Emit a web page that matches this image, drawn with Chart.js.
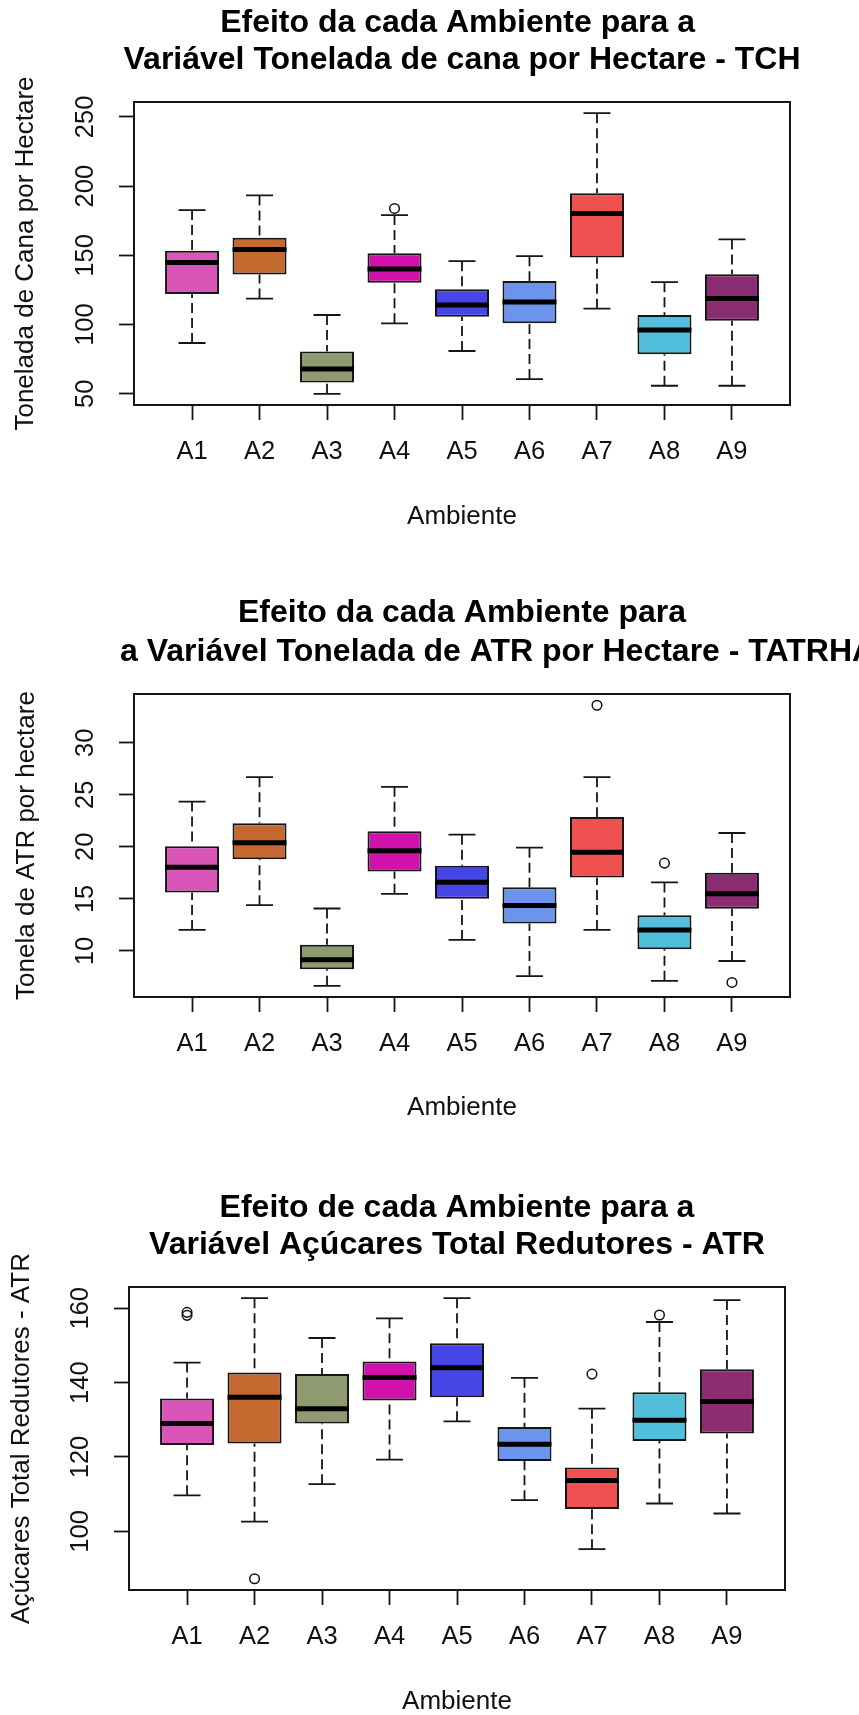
<!DOCTYPE html>
<html lang="pt">
<head>
<meta charset="utf-8">
<title>Efeito de cada Ambiente</title>
<script src="https://cdn.jsdelivr.net/npm/chart.js@4.4.1/dist/chart.umd.min.js"></script>
<style>
  html, body { margin: 0; padding: 0; background: #fff; overflow: hidden; }
  body { width: 859px; height: 1715px; position: relative; }
  canvas { position: absolute; left: 0; }
</style>
</head>
<body>
<canvas id="tch" width="859" height="580" style="top:0px"></canvas>
<canvas id="tatrha" width="859" height="575" style="top:580px"></canvas>
<canvas id="atr" width="859" height="580" style="top:1155px"></canvas>
<script>
const ambientes = ['A1', 'A2', 'A3', 'A4', 'A5', 'A6', 'A7', 'A8', 'A9'];
const coresAmbiente = ['#DA55B8', '#C4692F', '#8F9A70', '#D012AB', '#4646E6', '#6C94EC', '#EF5050', '#52C0DC', '#8B2D72'];

// TCH
const tchTitulo = ['Efeito da cada Ambiente para a ', 'Variável Tonelada de cana por Hectare - TCH'];
const tchEixoY = 'Tonelada de Cana por Hectare';
const tchLimInf = [86.7, 118.8, 50.0, 100.9, 80.9, 60.6, 111.5, 55.8, 55.8];
const tchQ1 = [122.1, 136.1, 58.2, 130.3, 105.7, 100.9, 148.4, 78.5, 102.8];
const tchMediana = [144.8, 154.2, 67.9, 140.2, 114.2, 116.3, 180.3, 96.1, 118.8];
const tchQ3 = [153.3, 162.7, 80.6, 151.6, 125.5, 131.5, 194.8, 106.9, 136.4];
const tchLimSup = [182.7, 193.3, 106.9, 179.1, 145.8, 149.4, 252.7, 130.6, 161.5];
const tchOutAmb = ['A4'];
const tchOutVal = [183.9];
const tchTicks = [50, 100, 150, 200, 250];

// TATRHA
const tatrhaTitulo = ['Efeito da cada Ambiente para', '        a Variável Tonelada de ATR por Hectare - TATRHA'];
const tatrhaEixoY = 'Tonela de ATR por hectare';
const tatrhaLimInf = [12.02, 14.4, 6.66, 15.49, 11.06, 7.59, 12.02, 7.14, 9.04];
const tatrhaQ1 = [15.62, 18.8, 8.24, 17.64, 15.01, 12.63, 17.06, 10.16, 14.05];
const tatrhaMediana = [18.03, 20.4, 9.17, 19.63, 16.61, 14.37, 19.47, 12.02, 15.49];
const tatrhaQ3 = [20.05, 22.26, 10.61, 21.49, 18.19, 16.13, 22.87, 13.44, 17.51];
const tatrhaLimSup = [24.35, 26.69, 14.08, 25.76, 21.17, 19.92, 26.69, 16.58, 21.33];
const tatrhaOutAmb = ['A7', 'A8', 'A9'];
const tatrhaOutVal = [33.6, 18.44, 6.98];
const tatrhaTicks = [10, 15, 20, 25, 30];

// ATR
const atrTitulo = ['Efeito de cada Ambiente para a', 'Variável Açúcares Total Redutores - ATR'];
const atrEixoY = 'Açúcares Total Redutores - ATR';
const atrLimInf = [109.7, 102.6, 112.7, 119.3, 129.6, 108.4, 95.2, 107.5, 104.8];
const atrQ1 = [123.2, 123.6, 129.0, 135.2, 136.1, 118.9, 106.0, 124.3, 126.3];
const atrMediana = [129.0, 136.1, 133.0, 141.4, 144.0, 123.4, 113.7, 129.9, 134.9];
const atrQ3 = [135.7, 142.7, 142.3, 145.7, 150.6, 128.1, 117.2, 137.4, 143.6];
const atrLimSup = [145.4, 162.7, 152.0, 157.3, 162.7, 141.3, 133.0, 156.3, 162.2];
const atrOutAmb = ['A1', 'A1', 'A2', 'A7', 'A8'];
const atrOutVal = [158.9, 158.1, 87.25, 142.3, 158.2];
const atrTicks = [100, 120, 140, 160];

const FONTE = '"Liberation Sans", Arial, Helvetica, sans-serif';
const TRACO = '#151515';

// posicao de cada painel dentro do seu canvas
const geoTCH = { altura: 580, caixa: { left: 134, right: 790, top: 102, bottom: 405 }, tituloY: [22.7, 60], eixoYX: 26, eixoXY: 517 };
const geoTATRHA = { altura: 575, caixa: { left: 134, right: 790, top: 114, bottom: 417 }, tituloY: [33.3, 71.7], eixoYX: 27, eixoXY: 528.3 };
const geoATR = { altura: 580, caixa: { left: 129, right: 785, top: 132, bottom: 435 }, tituloY: [53, 90], eixoYX: 22, eixoXY: 546.7 };

function boxplot(id, g, titulo, eixoY, limInf, q1, mediana, q3, limSup, outAmb, outVal, ticksY) {
  // limites do eixo y como no R: amplitude dos dados + 4%
  const todos = limInf.concat(limSup, outVal);
  const lo = Math.min(...todos), hi = Math.max(...todos);
  const folga = (hi - lo) * 0.04;

  const bxp = {
    id: 'bxp',
    beforeDatasetsDraw(chart) {
      // bigodes tracejados e hastes
      const { ctx, scales: { x, y } } = chart;
      const meia = (x.getPixelForValue(2) - x.getPixelForValue(1)) * 0.2;
      ctx.save();
      ctx.strokeStyle = TRACO;
      ctx.lineWidth = 1.8;
      limInf.forEach((v, i) => {
        const px = x.getPixelForValue(i + 1);
        const yInf = y.getPixelForValue(v);
        const ySup = y.getPixelForValue(limSup[i]);
        ctx.setLineDash([10, 5]);
        ctx.beginPath();
        ctx.moveTo(px, ySup); ctx.lineTo(px, y.getPixelForValue(q3[i]));
        ctx.moveTo(px, yInf); ctx.lineTo(px, y.getPixelForValue(q1[i]));
        ctx.stroke();
        ctx.setLineDash([]);
        ctx.beginPath();
        ctx.moveTo(px - meia, ySup); ctx.lineTo(px + meia, ySup);
        ctx.moveTo(px - meia, yInf); ctx.lineTo(px + meia, yInf);
        ctx.stroke();
      });
      ctx.restore();
    },
    afterDatasetsDraw(chart) {
      // medianas
      const { ctx, scales: { x, y } } = chart;
      const meia = (x.getPixelForValue(2) - x.getPixelForValue(1)) * 0.4;
      ctx.save();
      ctx.strokeStyle = '#000';
      ctx.lineWidth = 5;
      mediana.forEach((m, i) => {
        const px = x.getPixelForValue(i + 1);
        const py = y.getPixelForValue(m);
        ctx.beginPath();
        ctx.moveTo(px - meia, py); ctx.lineTo(px + meia, py);
        ctx.stroke();
      });
      ctx.restore();
    },
    afterDraw(chart) {
      const { ctx, chartArea: a, scales: { y } } = chart;
      ctx.save();
      ctx.strokeStyle = TRACO;
      ctx.lineWidth = 2;
      ctx.strokeRect(a.left, a.top, a.right - a.left, a.bottom - a.top);

      const cx = (a.left + a.right) / 2;
      ctx.fillStyle = '#000';
      ctx.textAlign = 'center';
      ctx.textBaseline = 'middle';
      ctx.font = 'bold 32px ' + FONTE;
      titulo.forEach((t, k) => ctx.fillText(t, cx, g.tituloY[k]));

      ctx.fillStyle = '#111';
      ctx.font = '26px ' + FONTE;
      ctx.fillText('Ambiente', cx, g.eixoXY);
      ctx.save();
      ctx.translate(g.eixoYX, (a.top + a.bottom) / 2);
      ctx.rotate(-Math.PI / 2);
      ctx.fillText(eixoY, 0, 0);
      ctx.restore();

      // rotulos do eixo y paralelos ao eixo
      ctx.font = '25.5px ' + FONTE;
      y.ticks.forEach(t => {
        ctx.save();
        ctx.translate(a.left - 48, y.getPixelForValue(t.value));
        ctx.rotate(-Math.PI / 2);
        ctx.fillText(String(t.value), 0, 0);
        ctx.restore();
      });
      ctx.restore();
    }
  };

  return new Chart(document.getElementById(id), {
    type: 'bar',
    data: {
      datasets: [{
        data: ambientes.map((a, i) => ({ x: i + 1, y: [q1[i], q3[i]] })),
        backgroundColor: coresAmbiente,
        borderColor: TRACO,
        borderWidth: 2,
        borderSkipped: false,
        categoryPercentage: 1,
        barPercentage: 0.8
      }, {
        type: 'scatter',
        data: outAmb.map((a, k) => ({ x: ambientes.indexOf(a) + 1, y: outVal[k] })),
        pointRadius: 4.8,
        pointBorderWidth: 1.5,
        pointBorderColor: '#111',
        pointBackgroundColor: 'rgba(255,255,255,0)'
      }]
    },
    options: {
      responsive: false,
      animation: false,
      events: [],
      layout: { padding: { left: 0, right: 859 - g.caixa.right, top: g.caixa.top, bottom: 0 } },
      plugins: { legend: { display: false }, tooltip: { enabled: false }, title: { display: false } },
      scales: {
        x: {
          type: 'linear',
          min: 0.5 - 0.36, max: 9.5 + 0.36,
          offset: false,
          afterBuildTicks: s => { s.ticks = ambientes.map((a, i) => ({ value: i + 1 })); },
          afterFit: s => { s.height = g.altura - g.caixa.bottom; },
          border: { display: false },
          grid: { offset: false, drawOnChartArea: false, tickLength: 15, tickWidth: 1.8, tickColor: TRACO },
          ticks: {
            autoSkip: false, maxRotation: 0, padding: 17, color: '#111',
            font: { family: FONTE, size: 25.5 },
            callback: v => ambientes[v - 1]
          }
        },
        y: {
          min: lo - folga, max: hi + folga,
          beginAtZero: false,
          afterBuildTicks: s => { s.ticks = ticksY.map(v => ({ value: v })); },
          afterFit: s => { s.width = g.caixa.left; },
          border: { display: false },
          grid: { drawOnChartArea: false, tickLength: 15, tickWidth: 1.8, tickColor: TRACO },
          ticks: { display: false }
        }
      }
    },
    plugins: [bxp]
  });
}

boxplot('tch', geoTCH, tchTitulo, tchEixoY, tchLimInf, tchQ1, tchMediana, tchQ3, tchLimSup, tchOutAmb, tchOutVal, tchTicks);
boxplot('tatrha', geoTATRHA, tatrhaTitulo, tatrhaEixoY, tatrhaLimInf, tatrhaQ1, tatrhaMediana, tatrhaQ3, tatrhaLimSup, tatrhaOutAmb, tatrhaOutVal, tatrhaTicks);
boxplot('atr', geoATR, atrTitulo, atrEixoY, atrLimInf, atrQ1, atrMediana, atrQ3, atrLimSup, atrOutAmb, atrOutVal, atrTicks);
</script>
</body>
</html>
